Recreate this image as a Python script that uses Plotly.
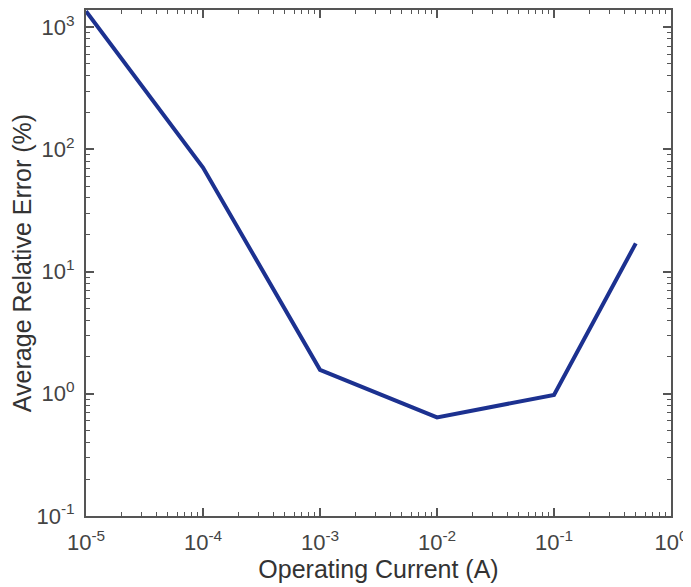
import plotly.graph_objects as go

current = [1e-5, 1e-4, 1e-3, 1e-2, 1e-1, 0.5]
error = [1350, 71, 1.57, 0.64, 0.98, 17]

x_ticks = [1e-5, 1e-4, 1e-3, 1e-2, 1e-1, 1]
x_labels = ["10<sup>-5</sup>", "10<sup>-4</sup>", "10<sup>-3</sup>", "10<sup>-2</sup>", "10<sup>-1</sup>", "10<sup>0</sup>"]
y_ticks = [0.1, 1, 10, 100, 1000]
y_labels = ["10<sup>-1</sup>", "10<sup>0</sup>", "10<sup>1</sup>", "10<sup>2</sup>", "10<sup>3</sup>"]

def minor_vals(lo, hi):
    out = []
    for e in range(lo, hi):
        for m in range(2, 10):
            out.append(m * 10 ** e)
    return out

fig = go.Figure()
fig.add_trace(go.Scatter(x=current, y=error, mode="lines",
                         line=dict(color="#1c3190", width=4)))

axis_common = dict(
    showline=True, linecolor="#555555", linewidth=2, mirror="ticks",
    ticks="inside", ticklen=8, tickwidth=1.5, tickcolor="#555555",
    showgrid=False, zeroline=False, automargin=False,
    tickfont=dict(family="Liberation Sans, Arial", size=22, color="#444444"),
)

fig.update_xaxes(type="log", range=[-5, 0], tickmode="array",
                 tickvals=x_ticks, ticktext=x_labels, ticklabelstandoff=6,
                 minor=dict(tickmode="array", tickvals=minor_vals(-5, 0), ticks="inside",
                            ticklen=4, tickcolor="#555555", tickwidth=1),
                 title=dict(text="Operating Current (A)", standoff=0,
                            font=dict(family="Liberation Sans, Arial", size=25, color="#333333")),
                 **axis_common)
fig.update_yaxes(type="log", range=[-1, 3.14], tickmode="array",
                 tickvals=y_ticks, ticktext=y_labels, ticklabelstandoff=5,
                 minor=dict(tickmode="array", tickvals=minor_vals(-1, 4), ticks="inside",
                            ticklen=4, tickcolor="#555555", tickwidth=1),
                 title=dict(text="Average Relative Error (%)", standoff=0,
                            font=dict(family="Liberation Sans, Arial", size=25, color="#333333")),
                 **axis_common)

# page body has an 8px margin, so the figure is shrunk by 8px and margins shifted
fig.update_layout(width=683, height=579, showlegend=False,
                  margin=dict(l=78, r=20, t=2, b=71),
                  plot_bgcolor="white", paper_bgcolor="white")

fig.write_html("out.html")
